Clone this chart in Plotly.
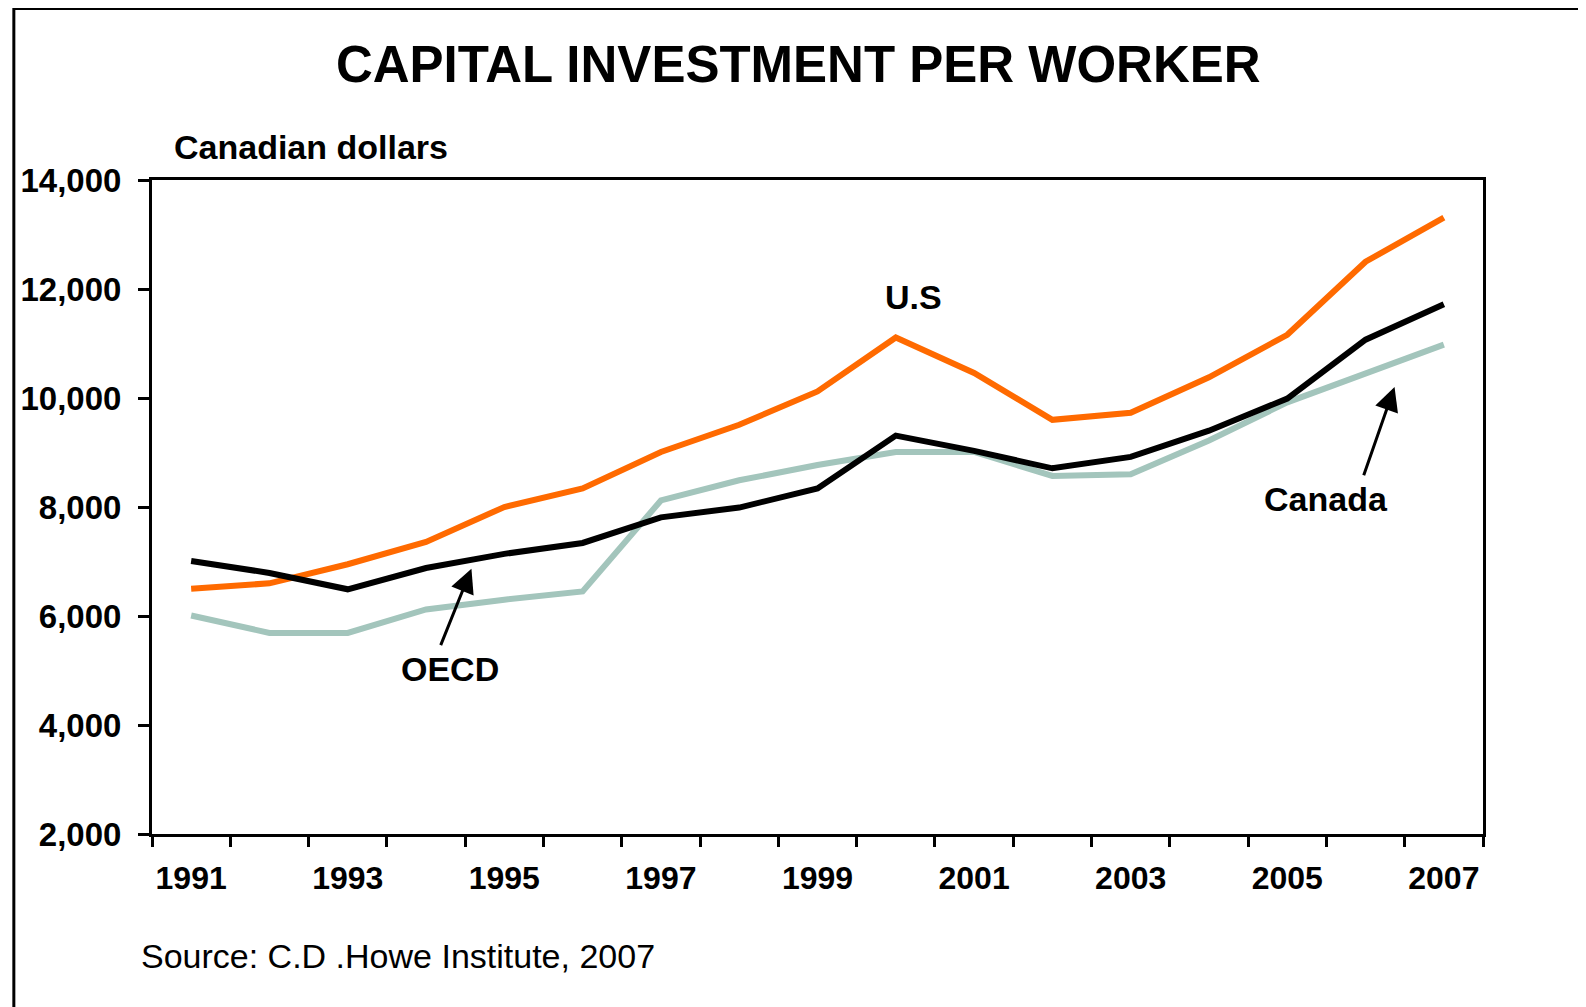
import plotly.graph_objects as go

years = list(range(1991, 2008))
us = [6500, 6600, 6950, 7360, 8000, 8340, 9010, 9510, 10120, 11110, 10460, 9600, 9730, 10380, 11160, 12500, 13310]
black_series = [7010, 6790, 6490, 6880, 7140, 7340, 7810, 7990, 8340, 9310, 9030, 8710, 8920, 9400, 9990, 11070, 11720]
gray_series = [6010, 5690, 5690, 6120, 6300, 6450, 8120, 8490, 8770, 9010, 9010, 8570, 8600, 9220, 9920, 10460, 10980]
x_labels = [str(y) for y in years if y % 2 == 1]
y_ticks = [2000, 4000, 6000, 8000, 10000, 12000, 14000]

FONT = "Liberation Sans, Arial, sans-serif"

fig = go.Figure()
fig.add_trace(go.Scatter(x=years, y=gray_series, mode="lines", name="Canada",
                         line=dict(color="#A3C5BC", width=6)))
fig.add_trace(go.Scatter(x=years, y=us, mode="lines", name="U.S",
                         line=dict(color="#FF6A00", width=6)))
fig.add_trace(go.Scatter(x=years, y=black_series, mode="lines", name="OECD",
                         line=dict(color="#000000", width=6)))

boundaries = [y - 0.5 for y in years] + [years[-1] + 0.5]

fig.update_xaxes(
    range=[years[0] - 0.5, years[-1] + 0.5],
    tickvals=[int(v) for v in x_labels], ticktext=x_labels,
    ticks="", showgrid=False, zeroline=False,
    showline=True, linecolor="black", linewidth=3, mirror=True,
    tickfont=dict(family=FONT, size=32, color="black", weight="bold"),
    ticklabelstandoff=14,
    minor=dict(tickvals=boundaries, ticks="outside", ticklen=10, tickwidth=3,
               tickcolor="black", showgrid=False),
)
fig.update_yaxes(
    range=[2000, 14000], tickvals=y_ticks,
    ticktext=[f"{v:,}" for v in y_ticks],
    ticks="outside", ticklen=11, tickwidth=3, tickcolor="black",
    showgrid=False, zeroline=False,
    showline=True, linecolor="black", linewidth=3, mirror=True,
    tickfont=dict(family=FONT, size=33, color="black", weight="bold"),
    ticklabelstandoff=10,
)

bold = dict(family=FONT, size=34, color="black", weight="bold")
ann = []
ann.append(dict(text="U.S", x=2000.22, y=11855, xref="x", yref="y", showarrow=False, font=bold))
ann.append(dict(text="OECD", x=1994.31, y=5033, xref="x", yref="y", showarrow=False, font=bold))
ann.append(dict(text="Canada", x=2005.49, y=8150, xref="x", yref="y", showarrow=False, font=bold))
ann.append(dict(text="", x=1994.58, y=6867, xref="x", yref="y", ax=1994.18, ay=5437,
                axref="x", ayref="y", showarrow=True, arrowhead=2, arrowsize=1.6,
                arrowwidth=3, arrowcolor="black"))
ann.append(dict(text="", x=2006.37, y=10204, xref="x", yref="y", ax=2005.97, ay=8554,
                axref="x", ayref="y", showarrow=True, arrowhead=2, arrowsize=1.6,
                arrowwidth=3, arrowcolor="black"))
ann.append(dict(text="Canadian dollars", x=0.0152, y=1.0504, xref="paper", yref="paper",
                xanchor="left", yanchor="middle", showarrow=False,
                font=dict(family=FONT, size=34, color="black", weight="bold")))
ann.append(dict(text="Source: C.D .Howe Institute, 2007", x=-0.0095, y=-0.186,
                xref="paper", yref="paper", xanchor="left", yanchor="middle",
                showarrow=False, font=dict(family=FONT, size=34, color="black")))

W, H = 1578, 999
fig.update_layout(
    width=W, height=H,
    margin=dict(l=140, r=103, t=172, b=173),
    paper_bgcolor="white", plot_bgcolor="white",
    showlegend=False,
    title=dict(text="CAPITAL INVESTMENT PER WORKER", x=0.5008, xanchor="center",
               y=1 - 56 / H, yanchor="middle",
               font=dict(family=FONT, size=51, color="black", weight="bold")),
    annotations=ann,
    shapes=[dict(type="rect", xref="paper", yref="paper", x0=-0.1038, x1=1.0765,
                 y0=-0.3, y1=1.2623, line=dict(color="black", width=3),
                 fillcolor="rgba(0,0,0,0)", layer="below")],
)

fig.write_html("out.html")
